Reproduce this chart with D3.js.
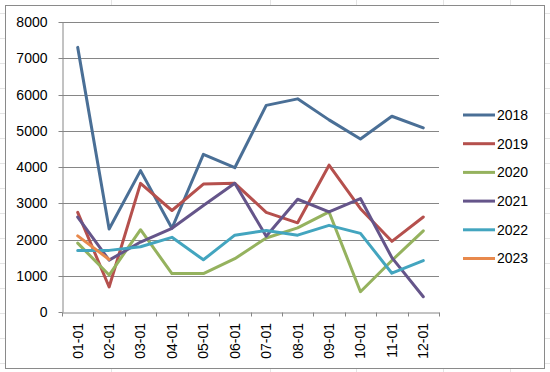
<!DOCTYPE html>
<html><head><meta charset="utf-8">
<script src="https://cdn.jsdelivr.net/npm/d3@7"></script>
<style>
html,body{margin:0;padding:0;background:#fff;}
svg{display:block;font-family:"Liberation Sans",Arial,sans-serif;}
</style></head>
<body><svg id="c" width="550" height="372"></svg>
<script>
const months = ["01-01","02-01","03-01","04-01","05-01","06-01","07-01","08-01","09-01","10-01","11-01","12-01"];
const years = ["2018","2019","2020","2021","2022","2023"];
const s2018 = [7300, 2290, 3900, 2310, 4350, 3980, 5700, 5880, 5300, 4770, 5400, 5080];
const s2019 = [2750, 690, 3550, 2800, 3530, 3550, 2750, 2460, 4050, 2850, 1950, 2620];
const s2020 = [1900, 1020, 2270, 1060, 1060, 1470, 2040, 2320, 2760, 560, 1420, 2240];
const s2021 = [2620, 1430, 1930, 2310, 2940, 3550, 2090, 3110, 2760, 3130, 1500, 420];
const s2022 = [1700, 1700, 1800, 2060, 1440, 2120, 2250, 2120, 2390, 2170, 1070, 1420];
const s2023 = [2100, 1450];
const yTicks = [0,1000,2000,3000,4000,5000,6000,7000,8000];
const colors = ["#4a6f96","#b5504d","#95b25e","#65558a","#43a5bf","#e8894c"];
const seriesVals = [s2018,s2019,s2020,s2021,s2022,s2023];

const svg = d3.select("#c");
// faint spreadsheet grid behind
const bg = svg.append("g").attr("stroke","#e4e4e4").attr("stroke-width",1);
[111,270,356,443,510].forEach(x=>bg.append("line").attr("x1",x+0.5).attr("x2",x+0.5).attr("y1",0).attr("y2",372));
[13,38,63,88,113,138,163,188,213,238,263,288,313,338,363].forEach(yy=>bg.append("line").attr("x1",0).attr("x2",550).attr("y1",yy+0.5).attr("y2",yy+0.5));
// chart area
svg.append("rect").attr("x",5.5).attr("y",5.5).attr("width",539).attr("height",363)
  .attr("fill","#fff").attr("stroke","#8a8a8a").attr("stroke-width",1);

const pL=62, pR=439, pT=22, pB=312;
const y = d3.scaleLinear().domain([0,8000]).range([pB,pT]);
const xb = d3.scaleBand().domain(months).range([pL,pR]);
const xl = d3.scaleLinear().domain([0,12]).range([pL,pR]);
const xc = m => xb(m) + xb.bandwidth()/2;

// gridlines
svg.append("g").selectAll("line").data(yTicks.slice(1)).join("line")
  .attr("x1",pL).attr("x2",pR)
  .attr("y1",d=>Math.round(y(d))+0.5).attr("y2",d=>Math.round(y(d))+0.5)
  .attr("stroke","#868686").attr("stroke-width",1);

// y axis
const ya = svg.append("g").attr("transform",`translate(${pL+0.5},0)`)
  .call(d3.axisLeft(y).tickValues(yTicks).tickSize(4).tickSizeOuter(0).tickPadding(11).tickFormat(d3.format("d")));
ya.select(".domain").attr("stroke","#868686");
ya.selectAll(".tick line").attr("stroke","#868686");
ya.selectAll(".tick").attr("transform",d=>`translate(0,${Math.round(y(d))+0.5})`);
ya.selectAll("text").attr("font-size",14).attr("fill","#000").attr("font-family","Liberation Sans, Arial, sans-serif");

// x axis ticks at boundaries
const xa = svg.append("g").attr("transform",`translate(0,${pB+0.5})`)
  .call(d3.axisBottom(xl).tickValues(d3.range(13)).tickSize(4).tickSizeOuter(0).tickFormat(""));
xa.select(".domain").attr("stroke","#868686");
xa.selectAll(".tick line").attr("stroke","#868686");
xa.selectAll(".tick").attr("transform",d=>`translate(${Math.round(xl(d))+0.5},0)`);

// x labels
const xlab = svg.append("g").attr("transform",`translate(0,${pB})`)
  .call(d3.axisBottom(xb).tickSize(0).tickPadding(0));
xlab.select(".domain").remove();
xlab.selectAll("text")
  .attr("font-size",14).attr("fill","#000").attr("font-family","Liberation Sans, Arial, sans-serif")
  .attr("text-anchor","end").attr("dy","0.35em")
  .attr("transform","translate(0,11) rotate(-90)").attr("y",0).attr("x",0);

// lines
const line = d3.line().x((d,i)=>xc(months[i])).y(d=>y(d));
seriesVals.forEach((vals,k)=>{
  svg.append("path").datum(vals).attr("d",line)
    .attr("fill","none").attr("stroke",colors[k]).attr("stroke-width",3)
    .attr("stroke-linejoin","round").attr("stroke-linecap","round");
});

// legend
const lg = svg.append("g");
years.forEach((yr,k)=>{
  const cy = 115 + k*28.7;
  lg.append("line").attr("x1",463).attr("x2",495).attr("y1",cy).attr("y2",cy)
    .attr("stroke",colors[k]).attr("stroke-width",3);
  lg.append("text").attr("x",497).attr("y",cy).attr("dy","0.35em")
    .attr("font-size",14).attr("fill","#000").text(yr);
});
</script></body></html>
